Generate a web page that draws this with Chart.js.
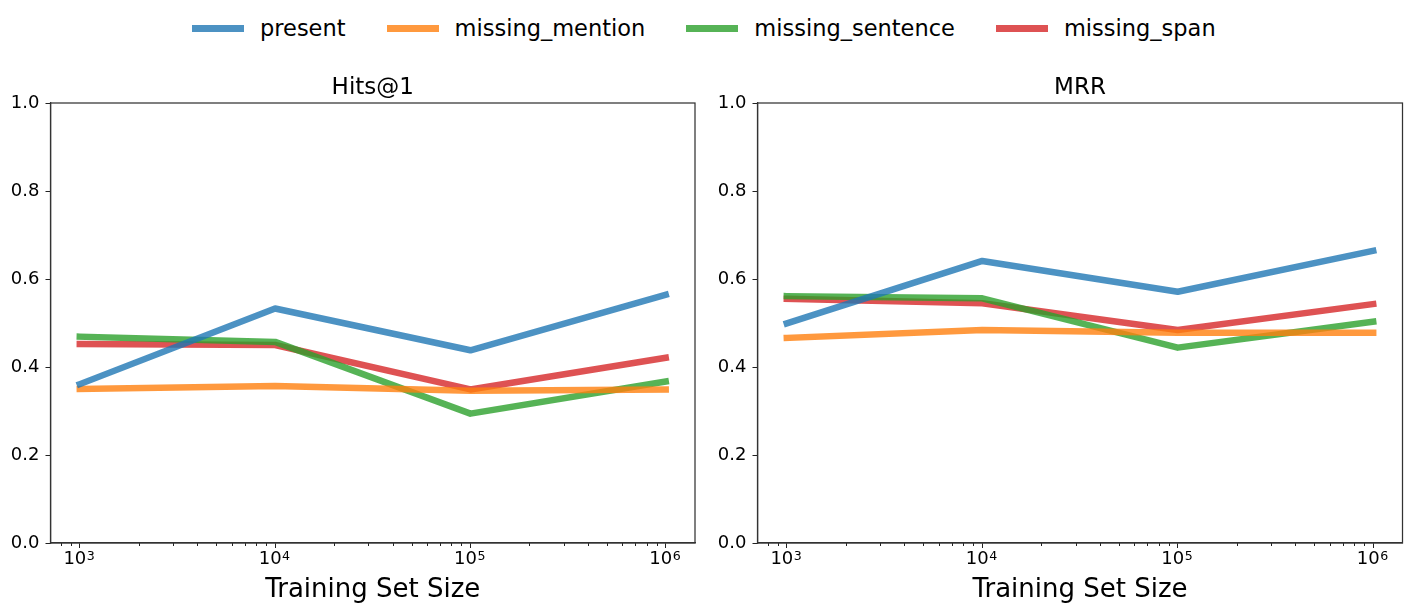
<!DOCTYPE html>
<html>
<head>
<meta charset="utf-8">
<script src="https://cdn.jsdelivr.net/npm/chart.js@4.4.1/dist/chart.umd.min.js"></script>
<style>
  html, body { margin:0; padding:0; background:#fff; }
  body { width:1412px; height:613px; position:relative; overflow:hidden; font-family:'DejaVu Sans', sans-serif; }
  .wrap { position:absolute; top:0; height:613px; }
  #legend { position:absolute; top:13px; left:192px; height:30px; display:flex; align-items:center; font-size:22.5px; color:#000; white-space:nowrap; }
  .item { display:flex; align-items:center; margin-right:41px; }
  .item:last-child { margin-right:0; }
  .swatch { width:52px; height:7px; margin-right:16px; }
</style>
</head>
<body>
<div id="legend"></div>
<div class="wrap" style="left:0;width:706px;"><canvas id="c1"></canvas></div>
<div class="wrap" style="left:706px;width:706px;"><canvas id="c2"></canvas></div>
<script>
const sizes = [1e3, 1e4, 1e5, 1e6];
const seriesNames = ['present', 'missing_mention', 'missing_sentence', 'missing_span'];
const seriesColors = ['rgba(31,119,180,0.8)', 'rgba(255,127,14,0.8)', 'rgba(44,160,44,0.8)', 'rgba(214,39,40,0.8)'];

const hitsPresent  = [0.361, 0.533, 0.438, 0.564];
const hitsMention  = [0.350, 0.357, 0.346, 0.349];
const hitsSentence = [0.469, 0.457, 0.294, 0.367];
const hitsSpan     = [0.452, 0.450, 0.349, 0.421];

const mrrPresent  = [0.499, 0.641, 0.571, 0.664];
const mrrMention  = [0.466, 0.484, 0.478, 0.478];
const mrrSentence = [0.561, 0.556, 0.444, 0.503];
const mrrSpan     = [0.555, 0.545, 0.484, 0.543];

const majorTicks = [1e3, 1e4, 1e5, 1e6];
const yTicks = [0, 0.2, 0.4, 0.6, 0.8, 1.0];

Chart.defaults.font.family = "'DejaVu Sans', sans-serif";
Chart.defaults.color = '#000';

// legend
const lg = document.getElementById('legend');
seriesNames.forEach((n, i) => {
  const it = document.createElement('div'); it.className = 'item';
  const sw = document.createElement('div'); sw.className = 'swatch'; sw.style.background = seriesColors[i];
  const tx = document.createElement('span'); tx.textContent = n;
  it.appendChild(sw); it.appendChild(tx); lg.appendChild(it);
});

const framePlugin = {
  id: 'frame',
  afterDraw(chart) {
    const {ctx, chartArea: a} = chart;
    const xs = chart.scales.x;
    ctx.save();
    // minor ticks
    ctx.strokeStyle = '#222';
    ctx.lineWidth = 1;
    for (let e = 2; e <= 6; e++) {
      for (let m = 2; m <= 9; m++) {
        const v = m * Math.pow(10, e);
        if (v < xs.min || v > xs.max) continue;
        const px = Math.round(xs.getPixelForValue(v)) + 0.5;
        ctx.beginPath();
        ctx.moveTo(px, a.bottom);
        ctx.lineTo(px, a.bottom + 3);
        ctx.stroke();
      }
    }
    // power-of-ten tick labels: base "10" plus raised exponent
    ctx.fillStyle = '#000';
    ctx.textBaseline = 'alphabetic';
    xs.ticks.forEach(t => {
      const e = Math.round(Math.log10(t.value));
      const px = xs.getPixelForValue(t.value);
      ctx.font = "18px 'DejaVu Sans', sans-serif";
      ctx.textAlign = 'right';
      ctx.fillText('10', px + 6.5, a.bottom + 21);
      ctx.font = "12.6px 'DejaVu Sans', sans-serif";
      ctx.textAlign = 'left';
      ctx.fillText(String(e), px + 7, a.bottom + 17);
    });
    // frame
    ctx.strokeStyle = '#333';
    ctx.lineWidth = 1.25;
    ctx.strokeRect(a.left, a.top, a.right - a.left, a.bottom - a.top);
    ctx.restore();
  }
};

function makeChart(id, title, vals, yWidth, padRight) {
  const datasets = vals.map((v, i) => ({
    label: seriesNames[i],
    data: sizes.map((s, j) => ({x: s, y: v[j]})),
    borderColor: seriesColors[i],
    backgroundColor: seriesColors[i],
    borderWidth: 6.5,
    pointRadius: 0,
    tension: 0,
    borderCapStyle: 'square',
    borderJoinStyle: 'round',
    fill: false
  }));
  return new Chart(document.getElementById(id), {
    type: 'line',
    data: { datasets },
    options: {
      responsive: true,
      maintainAspectRatio: false,
      animation: false,
      layout: { padding: { top: 0, right: padRight, left: 0, bottom: 0 } },
      plugins: {
        legend: { display: false },
        tooltip: { enabled: false },
        title: { display: false }
      },
      scales: {
        x: {
          type: 'logarithmic',
          min: Math.pow(10, 2.85),
          max: Math.pow(10, 6.15),
          afterBuildTicks(scale) { scale.ticks = majorTicks.map(v => ({value: v})); },
          afterFit(scale) { scale.height = 70; },
          ticks: { display: false, autoSkip: false, maxRotation: 0 },
          grid: { drawOnChartArea: false, drawTicks: true, tickLength: 5, color: '#222', tickColor: '#222' },
          border: { display: true, color: '#333', width: 1.25 },
          title: { display: true, text: 'Training Set Size', color: '#000', font: { size: 26 }, padding: { top: 0, bottom: 7 } }
        },
        xTop: {
          type: 'linear',
          position: 'top',
          min: 0, max: 1,
          afterFit(scale) { scale.height = 103; },
          ticks: { display: false },
          grid: { display: false, drawTicks: false },
          border: { display: false },
          title: { display: true, text: title, color: '#000', font: { size: 23 }, padding: { top: 74.4, bottom: 0 } }
        },
        y: {
          min: 0, max: 1,
          afterBuildTicks(scale) { scale.ticks = yTicks.map(v => ({value: v})); },
          afterFit(scale) { scale.width = yWidth; },
          ticks: { color: '#000', font: { size: 18 }, padding: 6, callback: v => v.toFixed(1) },
          grid: { drawOnChartArea: false, drawTicks: true, tickLength: 5, color: '#222', tickColor: '#222' },
          border: { display: true, color: '#333', width: 1.25 }
        }
      }
    },
    plugins: [framePlugin]
  });
}

makeChart('c1', 'Hits@1', [hitsPresent, hitsMention, hitsSentence, hitsSpan], 50.5, 11);
makeChart('c2', 'MRR', [mrrPresent, mrrMention, mrrSentence, mrrSpan], 51.5, 9.5);
</script>
</body>
</html>
